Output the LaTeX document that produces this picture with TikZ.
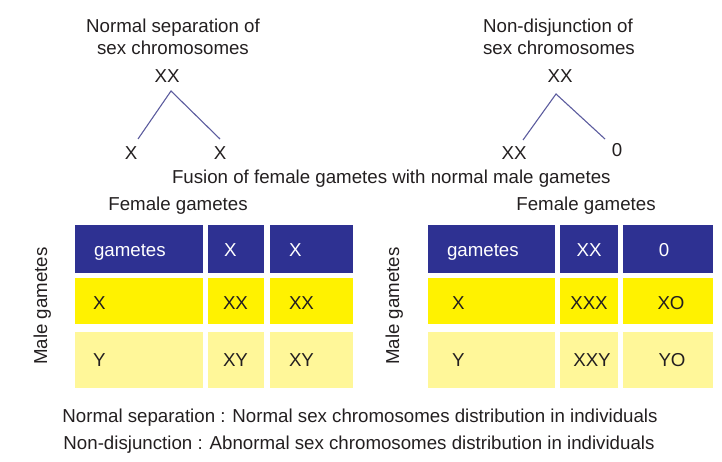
\documentclass[tikz,border=0pt]{standalone}
\usepackage{fontspec}
\setmainfont{Liberation Sans}
\definecolor{hdr}{HTML}{2E3192}
\definecolor{yel}{HTML}{FFF200}
\definecolor{lyel}{HTML}{FFF799}
\definecolor{ink}{HTML}{231F20}
\definecolor{branch}{HTML}{5C5C9E}
\begin{document}
\begin{tikzpicture}[x=1pt,y=-1pt,
  every node/.style={inner sep=0pt,outer sep=0pt,text=ink,font=\fontsize{18.7}{22}\selectfont},
  cellbox/.style={draw=none,anchor=north west,minimum height=#1},
  hrow/.style={cellbox=48,fill=hdr},
  yrow/.style={cellbox=46,fill=yel},
  lrow/.style={cellbox=56,fill=lyel},
  lab/.style={anchor=base},
  labw/.style={anchor=base west},
  htext/.style={text=white},
  branchline/.style={draw=branch,line width=1.1pt}]
\useasboundingbox (0,0) rectangle (722,462);

% ---------- top left: normal separation ----------
\node[lab] (tl1) at (173,33) {Normal separation of};
\node[lab] (tl2) at (173,55) {sex chromosomes};
\node[lab] (xxL) at (167,83) {XX};
\node[lab] (xL1) at (131,160) {X};
\node[lab] (xL2) at (220,160) {X};
\coordinate (apexL) at (171,91);
\coordinate (endL1) at (138,139);
\coordinate (endL2) at (220,139);
\draw[branchline] (endL1) -- (apexL) -- (endL2);

% ---------- top right: non-disjunction ----------
\node[lab] (tr1) at (558,33) {Non-disjunction of};
\node[lab] (tr2) at (559,55) {sex chromosomes};
\node[lab] (xxR) at (560,83) {XX};
\node[lab] (xxR1) at (514,160) {XX};
\node[lab] (zR) at (617,157) {0};
\coordinate (apexR) at (556,94);
\coordinate (endR1) at (523,140);
\coordinate (endR2) at (605,139);
\draw[branchline] (endR1) -- (apexR) -- (endR2);

\node[labw] (fusion) at (172,184) {Fusion of female gametes with normal male gametes};

% ---------- left table ----------
\node[lab] (femL) at (178,211) {Female gametes};
\node[lab,rotate=90] (maleL) at (47,306) {Male gametes};

\node[hrow,minimum width=128] (L11) at (75,225) {};
\node[hrow,minimum width=56]  (L12) at (208,225) {};
\node[hrow,minimum width=83]  (L13) at (270,225) {};
\node[yrow,minimum width=128] (L21) at (75,278) {};
\node[yrow,minimum width=56]  (L22) at (208,278) {};
\node[yrow,minimum width=83]  (L23) at (270,278) {};
\node[lrow,minimum width=128] (L31) at (75,332) {};
\node[lrow,minimum width=56]  (L32) at (208,332) {};
\node[lrow,minimum width=83]  (L33) at (270,332) {};

\node[labw,htext] (tL11) at (94,256.5) {gametes};
\node[labw,htext] (tL12) at (224,256.5) {X};
\node[labw,htext] (tL13) at (289,256.5) {X};
\node[labw] (tL21) at (93,309.5) {X};
\node[labw] (tL22) at (223,309.5) {XX};
\node[labw] (tL23) at (289,309.5) {XX};
\node[labw] (tL31) at (93,366.5) {Y};
\node[labw] (tL32) at (223,366.5) {XY};
\node[labw] (tL33) at (289,366.5) {XY};

% ---------- right table ----------
\node[lab] (femR) at (586,211) {Female gametes};
\node[lab,rotate=90] (maleR) at (399,306) {Male gametes};

\node[hrow,minimum width=127] (R11) at (428,225) {};
\node[hrow,minimum width=58]  (R12) at (560,225) {};
\node[hrow,minimum width=90]  (R13) at (623,225) {};
\node[yrow,minimum width=127] (R21) at (428,278) {};
\node[yrow,minimum width=58]  (R22) at (560,278) {};
\node[yrow,minimum width=90]  (R23) at (623,278) {};
\node[lrow,minimum width=127] (R31) at (428,332) {};
\node[lrow,minimum width=58]  (R32) at (560,332) {};
\node[lrow,minimum width=90]  (R33) at (623,332) {};

\node[labw,htext] (tR11) at (447,256.5) {gametes};
\node[lab,htext] (tR12) at (589,256.5) {XX};
\node[lab,htext] (tR13) at (664,256.5) {0};
\node[labw] (tR21) at (452,309.5) {X};
\node[lab] (tR22) at (589,309.5) {XXX};
\node[lab] (tR23) at (671,309.5) {XO};
\node[labw] (tR31) at (452,366.5) {Y};
\node[lab] (tR32) at (592,366.5) {XXY};
\node[lab] (tR33) at (672,366.5) {YO};

% ---------- bottom notes ----------
\node[lab] (note1) at (360,422) {Normal separation : Normal sex chromosomes distribution in individuals};
\node[lab] (note2) at (359,449) {Non-disjunction : Abnormal sex chromosomes distribution in individuals};
\end{tikzpicture}
\end{document}
